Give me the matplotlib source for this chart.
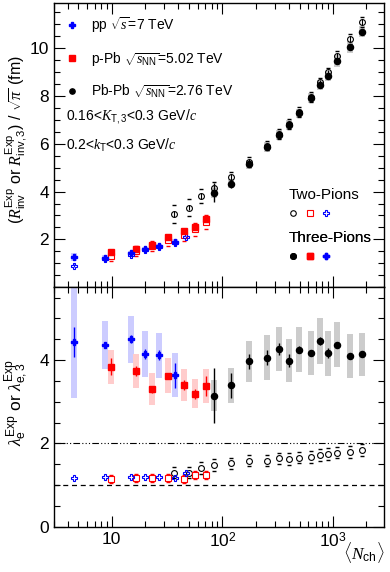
import matplotlib
matplotlib.use('Agg')
import matplotlib.pyplot as plt
import numpy as np
from matplotlib.patches import Rectangle
from matplotlib.lines import Line2D
from matplotlib.ticker import FixedLocator, FuncFormatter, LogLocator, NullFormatter, MultipleLocator

plt.rcParams['font.family'] = ['Liberation Sans', 'DejaVu Sans']
plt.rcParams['mathtext.fontset'] = 'custom'
plt.rcParams['mathtext.rm'] = 'Liberation Sans'
plt.rcParams['mathtext.it'] = 'Liberation Serif:italic'
plt.rcParams['mathtext.bf'] = 'Liberation Sans:bold'

# <Nch> des séries
pp_x = [4.56, 8.65, 14.8, 20.2, 26.6, 37.1, 47.4]
ppb_x = [9.94, 16.6, 23.3, 32.6, 45.1, 57.2, 71.3]
pbpb3_x = [84.3, 118.6, 172.6, 254, 326, 402, 496, 628, 767, 901, 1080, 1416, 1829]
pbpb2_x = [36.4, 49.8, 63.6] + pbpb3_x

# painel de cima: raios (fm)
pp3_R = [1.26, 1.23, 1.43, 1.58, 1.72, 1.90]
pp3_R_sys = [0.17, 0.1, 0.1, 0.1, 0.1, 0.1]
pp2_R = [0.90, 1.17, 1.36, 1.55, 1.68, 1.84, 2.10]
ppb3_R = [1.48, 1.61, 1.77, 2.11, 2.35, 2.52, 2.84]
ppb2_R = [1.30, 1.51, 1.72, 1.96, 2.17, 2.42, 2.73]
ppb2_R_sys = [0.2, 0.2, 0.2, 0.22, 0.25, 0.27, 0.3]
pbpb3_R = [3.95, 4.33, 5.14, 5.87, 6.36, 6.79, 7.27, 7.92, 8.46, 8.83, 9.45, 10.05, 10.70]
pbpb3_R_stat = [0.39, 0.2, 0.08, 0.05, 0.05, 0.05, 0.05, 0.05, 0.05, 0.05, 0.05, 0.05, 0.05]
pbpb3_R_sys = [0.2, 0.2, 0.2, 0.2, 0.2, 0.2, 0.2, 0.22, 0.22, 0.22, 0.25, 0.25, 0.25]
pbpb2_R = [3.06, 3.33, 3.82, 4.16, 4.62, 5.25, 5.92, 6.40, 6.83, 7.32, 7.97, 8.57, 8.99, 9.67, 10.39, 11.11]
pbpb2_R_sys = [0.38, 0.35, 0.3, 0.25, 0.22, 0.2, 0.2, 0.2, 0.2, 0.2, 0.2, 0.2, 0.2, 0.2, 0.2, 0.2]

# painel de baixo: lambda
pp3_L = [4.44, 4.36, 4.50, 4.14, 4.12, 3.64]
pp3_L_stat = [0.36, 0.08, 0.1, 0.12, 0.12, 0.30]
pp3_L_sys = [1.36, 0.57, 0.56, 0.55, 0.54, 0.53]
ppb3_L = [3.84, 3.74, 3.30, 3.63, 3.40, 3.19, 3.38]
ppb3_L_stat = [0.2, 0.12, 0.08, 0.06, 0.12, 0.12, 0.23]
ppb3_L_sys = [0.41, 0.41, 0.38, 0.41, 0.39, 0.35, 0.41]
pbpb3_L = [3.15, 3.40, 3.97, 4.06, 4.27, 3.99, 4.25, 4.17, 4.46, 4.16, 4.37, 4.10, 4.14]
pbpb3_L_stat = [0.65, 0.3, 0.18, 0.18, 0.15, 0.15, 0.08, 0.08, 0.1, 0.12, 0.05, 0.05, 0.05]
pbpb3_L_sys = [0.38, 0.42, 0.49, 0.54, 0.53, 0.51, 0.54, 0.53, 0.56, 0.53, 0.54, 0.52, 0.52]
pp2_L = [1.17, 1.20, 1.20, 1.20, 1.20, 1.17, 1.30]
ppb2_L = [1.15, 1.17, 1.17, 1.17, 1.15, 1.25, 1.25]
pbpb2_L = [1.30, 1.30, 1.41, 1.48, 1.52, 1.59, 1.59, 1.64, 1.62, 1.66, 1.68, 1.72, 1.75, 1.78, 1.80, 1.84]

BLUE = '#0000ff'
RED = '#ff0000'
BLACK = '#000000'


# caixas de erro sistemático (largura constante em escala log)
def caixas(ax, xs, ys, sys, cor, hw=0.027):
    for x, y, s in zip(xs, ys, sys):
        x0 = x * 10 ** (-hw)
        x1 = x * 10 ** hw
        ax.add_patch(Rectangle((x0, y - s), x1 - x0, 2 * s, facecolor=cor, edgecolor='none', zorder=1))


# tracinhos de sistemático para os pontos de dois píons
def tracos(ax, xs, ys, s, cor):
    ys = np.array(ys)
    s = np.array(s) if np.ndim(s) else np.full(len(ys), s)
    ax.plot(xs, ys + s, ls='none', marker='_', ms=3.5, mew=1.0, color=cor, zorder=2)
    ax.plot(xs, ys - s, ls='none', marker='_', ms=3.5, mew=1.0, color=cor, zorder=2)


fig = plt.figure(figsize=(3.9, 5.72), dpi=100)
ax1 = fig.add_axes([0.138, 0.498, 0.847, 0.497])
ax2 = fig.add_axes([0.138, 0.079, 0.847, 0.419])

# ---- painel de cima
caixas(ax1, pbpb3_x, pbpb3_R, pbpb3_R_sys, '#cccccc')
caixas(ax1, pp_x[:6], pp3_R, pp3_R_sys, '#ccccff')
tracos(ax1, ppb_x, ppb2_R, ppb2_R_sys, RED)
tracos(ax1, pbpb2_x, pbpb2_R, pbpb2_R_sys, BLACK)
ax1.errorbar(pbpb2_x, pbpb2_R, yerr=0.12, fmt='o', mfc='none', mec=BLACK, color=BLACK,
             ms=4.2, mew=0.8, elinewidth=0.8, capsize=0, zorder=3)
ax1.errorbar(pp_x, pp2_R, yerr=0.05, fmt='P', mfc='none', mec=BLUE, color=BLUE,
             ms=4.5, mew=0.8, elinewidth=0.8, capsize=0, zorder=3)
ax1.plot(ppb_x, ppb2_R, 's', mfc='none', mec=RED, ms=4.2, mew=0.8, zorder=3)
ax1.plot(ppb_x, ppb3_R, 's', color=RED, ms=4.2, zorder=4)
ax1.errorbar(pp_x[:6], pp3_R, yerr=0.05, fmt='P', color=BLUE, ms=4.6, elinewidth=1, capsize=0, zorder=4)
ax1.errorbar(pbpb3_x, pbpb3_R, yerr=pbpb3_R_stat, fmt='o', color=BLACK, ms=4.4,
             elinewidth=1, capsize=0, zorder=4)

# ---- painel de baixo
caixas(ax2, pp_x[:6], pp3_L, pp3_L_sys, '#ccccff')
caixas(ax2, ppb_x, ppb3_L, ppb3_L_sys, '#ffcccc')
caixas(ax2, pbpb3_x, pbpb3_L, pbpb3_L_sys, '#cccccc')
ax2.axhline(2, color=BLACK, lw=0.8, ls=(0, (6, 2, 1, 2, 1, 2, 1, 2)), zorder=1)
ax2.axhline(1, color=BLACK, lw=0.9, ls=(0, (4, 3)), zorder=1)
tracos(ax2, ppb_x, ppb2_L, 0.1, RED)
tracos(ax2, pbpb2_x, pbpb2_L, 0.14, BLACK)
ax2.plot(pbpb2_x, pbpb2_L, 'o', mfc='none', mec=BLACK, ms=4.2, mew=0.8, zorder=3)
ax2.plot(ppb_x, ppb2_L, 's', mfc='none', mec=RED, ms=4.4, mew=0.8, zorder=3)
ax2.plot(pp_x, pp2_L, 'P', mfc='none', mec=BLUE, ms=5, mew=0.8, zorder=3)
ax2.errorbar(pp_x[:6], pp3_L, yerr=pp3_L_stat, fmt='P', color=BLUE, ms=4.6, elinewidth=1, capsize=0, zorder=4)
ax2.errorbar(ppb_x, ppb3_L, yerr=ppb3_L_stat, fmt='s', color=RED, ms=4.2, elinewidth=1, capsize=0, zorder=4)
ax2.errorbar(pbpb3_x, pbpb3_L, yerr=pbpb3_L_stat, fmt='o', color=BLACK, ms=4.4, elinewidth=1, capsize=0, zorder=4)

# ---- eixos
rotulos = {10: '10', 100: r'$10^2$', 1000: r'$10^3$'}
for ax in (ax1, ax2):
    ax.set_xscale('log')
    ax.set_xlim(3, 2900)
    ax.xaxis.set_major_locator(FixedLocator([10, 100, 1000]))
    ax.xaxis.set_minor_locator(LogLocator(base=10, subs=np.arange(2, 10)))
    ax.xaxis.set_minor_formatter(NullFormatter())
    ax.tick_params(which='both', direction='in', top=True, right=True, labelsize=12.5, width=0.8)
    ax.tick_params(which='major', length=8)
    ax.tick_params(which='minor', length=4)
    for sp in ax.spines.values():
        sp.set_linewidth(1)

ax1.set_ylim(0, 11.9)
ax1.yaxis.set_major_locator(FixedLocator([2, 4, 6, 8, 10]))
ax1.yaxis.set_minor_locator(MultipleLocator(0.5))
ax1.tick_params(axis='x', labelbottom=False)

ax2.set_ylim(0, 5.75)
ax2.yaxis.set_major_locator(FixedLocator([0, 2, 4]))
ax2.yaxis.set_minor_locator(MultipleLocator(0.5))
ax2.xaxis.set_major_formatter(FuncFormatter(lambda v, p: rotulos.get(int(round(v)), '')))

ax1.set_ylabel(r'($R^{\rm Exp}_{\rm inv}$ or $R^{\rm Exp}_{\rm inv,3}$) / $\sqrt{\pi}$ (fm)', fontsize=11.5)
ax1.yaxis.set_label_coords(-0.072, 0.52)
ax2.set_ylabel(r'$\lambda^{\rm Exp}_{\rm e}$ or $\lambda^{\rm Exp}_{\rm e,3}$', fontsize=12.5)
ax2.yaxis.set_label_coords(-0.072, 0.52)
ax2.text(1.0, -0.055, r'$\langle N_{\rm ch}\rangle$', transform=ax2.transAxes, ha='right', va='top', fontsize=12.5)

# ---- legendas
h_leg = [
    Line2D([], [], ls='none', marker='P', color=BLUE, ms=5),
    Line2D([], [], ls='none', marker='s', color=RED, ms=4.5),
    Line2D([], [], ls='none', marker='o', color=BLACK, ms=3.8),
]
lab_leg = [r'pp $\sqrt{s}$=7 TeV', r'p-Pb $\sqrt{s_{\rm NN}}$=5.02 TeV', r'Pb-Pb $\sqrt{s_{\rm NN}}$=2.76 TeV']
leg = ax1.legend(h_leg, lab_leg, loc='upper left', bbox_to_anchor=(0.0, 0.99), frameon=False,
                 fontsize=10, labelspacing=1.05, handlelength=1.2, handletextpad=0.8, borderaxespad=0.3)
ax1.add_artist(leg)

ax1.text(0.036, 0.60, r'0.16<$K_{\rm T,3}$<0.3 GeV/$c$', transform=ax1.transAxes, fontsize=10, va='center')
ax1.text(0.036, 0.50, r'0.2<$k_{\rm T}$<0.3 GeV/$c$', transform=ax1.transAxes, fontsize=10, va='center')

h2 = [Line2D([], [], ls='none', marker='o', mfc='none', mec=BLACK, ms=4, mew=0.8),
      Line2D([], [], ls='none', marker='s', mfc='none', mec=RED, ms=4, mew=0.8),
      Line2D([], [], ls='none', marker='P', mfc='none', mec=BLUE, ms=4.5, mew=0.8)]
h3 = [Line2D([], [], ls='none', marker='o', color=BLACK, ms=4),
      Line2D([], [], ls='none', marker='s', color=RED, ms=4),
      Line2D([], [], ls='none', marker='P', color=BLUE, ms=4.5)]
for hs, titulo, ytop in ((h2, 'Two-Pions', 0.365), (h3, 'Three-Pions', 0.215)):
    lg = ax1.legend(hs, ['', '', ''], ncol=3, title=titulo, title_fontsize=11, loc='upper left',
                    bbox_to_anchor=(0.695, ytop), frameon=False, handlelength=0.8, handletextpad=0,
                    columnspacing=0.5, borderaxespad=0, alignment='left', fontsize=9)
    ax1.add_artist(lg)

fig.savefig('out.png', dpi=100)
